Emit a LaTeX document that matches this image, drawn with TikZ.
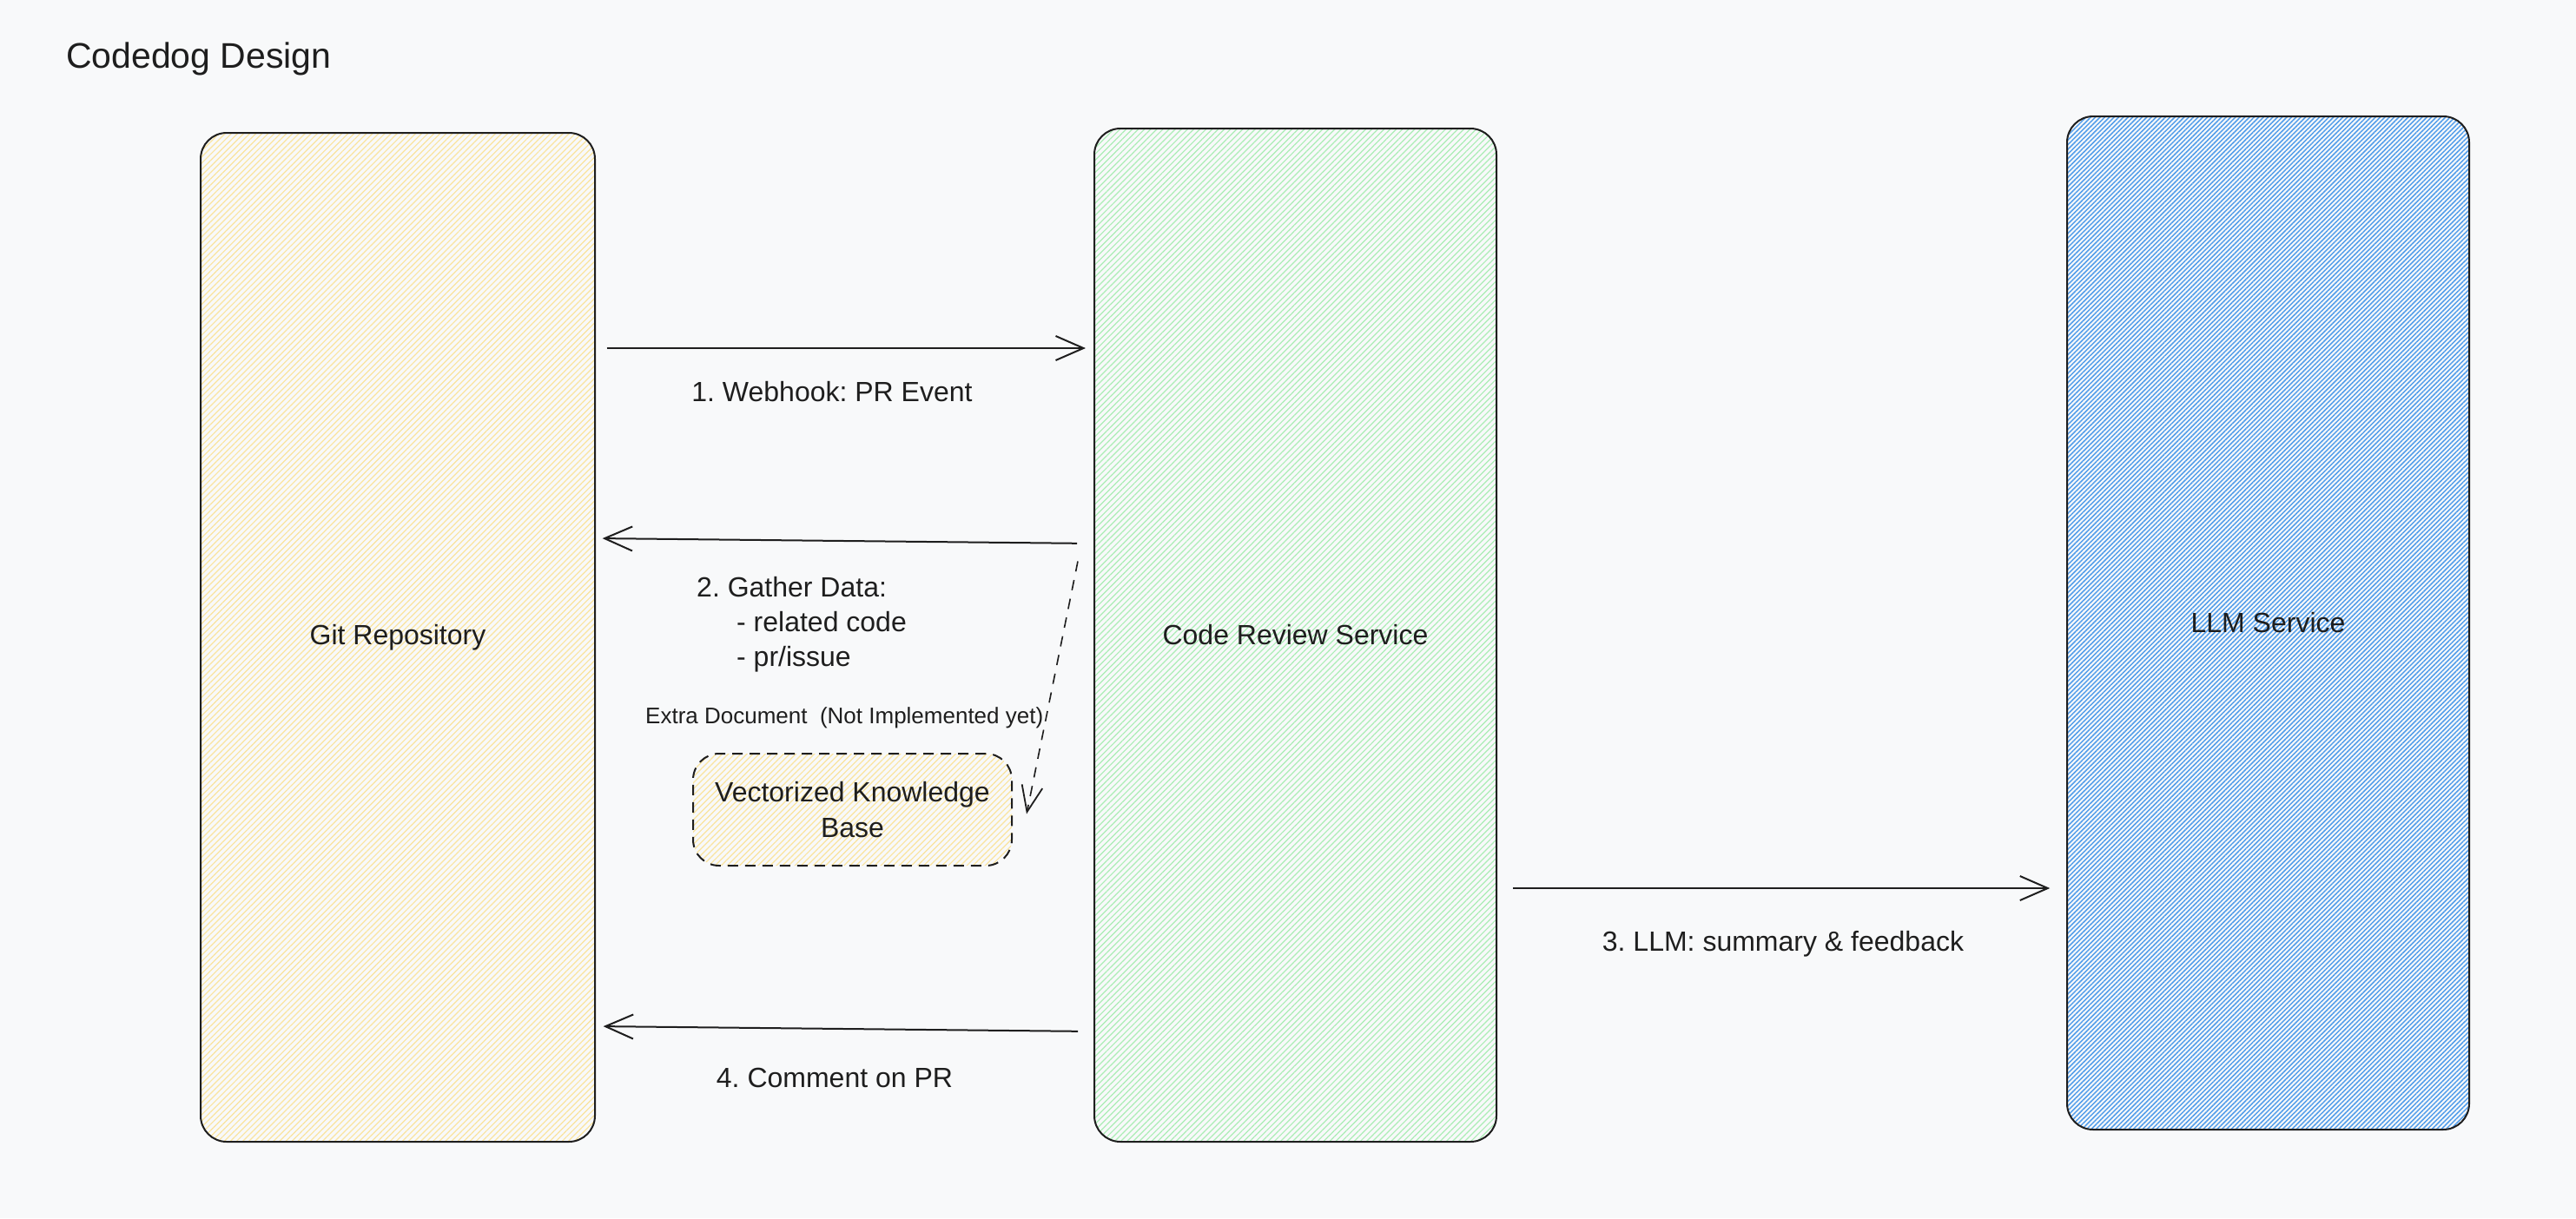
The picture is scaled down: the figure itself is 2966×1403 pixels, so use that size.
\documentclass[tikz,border=0pt]{standalone}
\usepackage{fontspec}
\setmainfont{Liberation Sans}
\usetikzlibrary{arrows.meta,patterns.meta,calc}
\frenchspacing
\definecolor{bgc}{HTML}{F8F9FA}
\definecolor{ink}{HTML}{1E1E1E}
\definecolor{yhatch}{HTML}{FAE49E}
\definecolor{ghatch}{HTML}{ABEDB5}
\definecolor{bhatch}{HTML}{529DEA}
\newcommand{\lblfont}{\fontsize{32}{41}\selectfont}
\newcommand{\smallfont}{\fontsize{26}{32}\selectfont}
\newcommand{\titlefont}{\fontsize{41}{50}\selectfont}
\begin{document}
\begin{tikzpicture}[x=1pt,y=-1pt,
  box/.style={draw=ink, line width=2pt, rounded corners=30pt, inner sep=0pt, text=ink, font=\lblfont},
  yfill/.style={pattern={Lines[angle=45,distance=5pt,line width=1.2pt]}, pattern color=yhatch},
  gfill/.style={pattern={Lines[angle=45,distance=5pt,line width=1.2pt]}, pattern color=ghatch},
  bfill/.style={pattern={Lines[angle=45,distance=3.8pt,line width=1.5pt]}, pattern color=bhatch},
  lbl/.style={text=ink, font=\lblfont, inner sep=0pt},
  arr/.style={draw=ink, line width=2pt, -{Straight Barb[length=32pt,width=28pt,line width=2pt]}},
  darr/.style={draw=ink, line width=1.6pt, dash pattern=on 12pt off 10pt, -{Straight Barb[length=30pt,width=24pt,line width=1.8pt]}}
]
\fill[bgc] (0,0) rectangle (2966,1403);
\useasboundingbox (0,0) rectangle (2966,1403);

% title
\node[lbl, font=\titlefont, anchor=base west] (title) at (76,78) {Codedog Design};

% main boxes
\node[box, yfill, minimum width=454pt, minimum height=1162pt] (git) at (458,734) {Git Repository};
\node[box, gfill, minimum width=463pt, minimum height=1167pt] (crs) at (1491.5,731.5) {Code Review Service};
\node[box, bfill, minimum width=463pt, minimum height=1167pt] (llm) at (2611.5,717.5) {LLM Service};

% knowledge base
\node[box, yfill, dash pattern=on 12pt off 8pt, minimum width=367pt, minimum height=129pt, align=center] (vkb) at (981.5,932.5) {Vectorized Knowledge\\Base};

% connectors
\draw[arr, shorten <=13pt, shorten >=9pt] (git.east |- 0,401) -- (crs.west |- 0,401);
\draw[arr, shorten <=19pt, shorten >=8pt] (crs.west |- 0,626) -- (git.east |- 0,620);
\draw[arr, shorten <=18pt, shorten >=19pt] (crs.east |- 0,1023) -- (llm.west |- 0,1023);
\draw[arr, shorten <=18pt, shorten >=9pt] (crs.west |- 0,1188) -- (git.east |- 0,1182);
\draw[darr] ($(crs.west)+(-18,-85)$) -- ($(vkb.east)+(16,5)$);

% labels
\node[lbl, anchor=base] (l1) at (958,462) {1. Webhook: PR Event};
\node[lbl, anchor=base west] (l2a) at (802,687) {2. Gather Data:};
\node[lbl, anchor=base west] (l2b) at (848,727) {- related code};
\node[lbl, anchor=base west] (l2c) at (848,767) {- pr/issue};
\node[lbl, font=\smallfont, anchor=base west] (extra) at (743,833) {Extra Document\ \ (Not Implemented yet)};
\node[lbl, anchor=base] (l3) at (2053,1095) {3. LLM: summary \& feedback};
\node[lbl, anchor=base] (l4) at (961,1252) {4. Comment on PR};
\end{tikzpicture}
\end{document}
